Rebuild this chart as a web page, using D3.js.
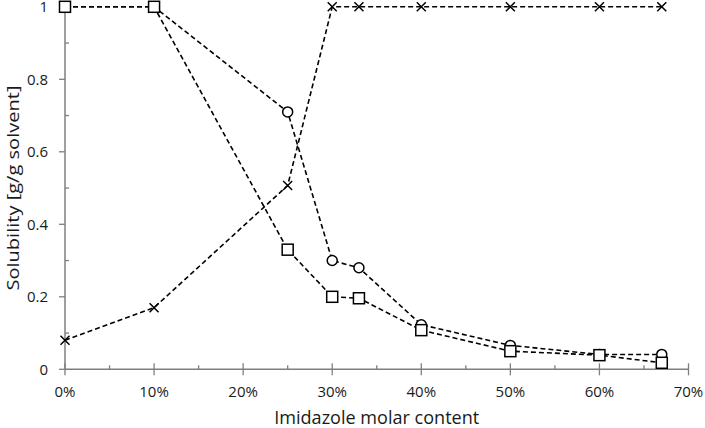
<!DOCTYPE html>
<html><head><meta charset="utf-8">
<script src="https://cdn.jsdelivr.net/npm/d3@7"></script>
<style>body{margin:0;background:#fff}svg{display:block}text{font-family:"Open Sans",Lato,sans-serif;fill:#1a1a1a}</style>
</head><body>
<script>
const xValues = [0, 0.10, 0.25, 0.30, 0.33, 0.40, 0.50, 0.60, 0.67];
const circleSeries = [1, 1, 0.71, 0.30, 0.28, 0.123, 0.066, 0.041, 0.041];
const squareSeries = [1, 1, 0.33, 0.20, 0.196, 0.108, 0.05, 0.039, 0.018];
const crossSeries = [0.08, 0.17, 0.507, 1, 1, 1, 1, 1, 1];
const xTicks = [0, 0.1, 0.2, 0.3, 0.4, 0.5, 0.6, 0.7];
const yTicks = [0, 0.2, 0.4, 0.6, 0.8, 1];
const xTitle = "Imidazole molar content";
const yTitle = "Solubility [g/g solvent]";

const W = 705, H = 428;
const svg = d3.select("body").append("svg").attr("width", W).attr("height", H);
const x = d3.scaleLinear().domain([0, 0.7]).range([65, 688.5]);
const y = d3.scaleLinear().domain([0, 1]).range([369.3, 6.8]);
const axisColor = "#7f7f7f";

// x axis
const xg = svg.append("g").attr("transform", `translate(0,${y(0)})`);
xg.append("line").attr("x1", x(0)).attr("x2", x(0.7)).attr("stroke", axisColor).attr("stroke-width", 1.5);
xg.selectAll(".maj").data(xTicks).join("line").attr("x1", d => x(d)).attr("x2", d => x(d)).attr("y1", -6).attr("y2", 6).attr("stroke", axisColor).attr("stroke-width", 1.3);
xg.selectAll(".min").data(d3.range(0.05, 0.7, 0.1)).join("line").attr("x1", d => x(d)).attr("x2", d => x(d)).attr("y1", -4).attr("y2", 0).attr("stroke", axisColor).attr("stroke-width", 1.3);
xg.selectAll("text").data(xTicks).join("text").attr("x", d => x(d)).attr("y", 28).attr("text-anchor", "middle").attr("font-size", 15).text(d => d3.format(".0%")(d));

// y axis
const yg = svg.append("g");
yg.append("line").attr("x1", x(0)).attr("x2", x(0)).attr("y1", y(0)).attr("y2", y(1)).attr("stroke", axisColor).attr("stroke-width", 1.5);
yg.selectAll(".maj").data(yTicks).join("line").attr("x1", x(0) - 6).attr("x2", x(0)).attr("y1", d => y(d)).attr("y2", d => y(d)).attr("stroke", axisColor).attr("stroke-width", 1.3);
yg.selectAll(".min").data(d3.range(0.1, 1, 0.2)).join("line").attr("x1", x(0)).attr("x2", x(0) + 4).attr("y1", d => y(d)).attr("y2", d => y(d)).attr("stroke", axisColor).attr("stroke-width", 1.3);
yg.selectAll("text").data(yTicks).join("text").attr("x", 48).attr("y", d => y(d) + 5.3).attr("text-anchor", "end").attr("font-size", 15).text(d => d === 0 || d === 1 ? d : d.toFixed(1));

svg.append("text").attr("x", x(0.35)).attr("y", 424).attr("text-anchor", "middle").attr("font-size", 18)
  .attr("textLength", 205).attr("lengthAdjust", "spacingAndGlyphs").text(xTitle);
svg.append("text").attr("transform", `translate(19,${y(0.5)}) rotate(-90)`).attr("text-anchor", "middle").attr("font-size", 17)
  .attr("textLength", 205).attr("lengthAdjust", "spacingAndGlyphs").text(yTitle);

const line = d3.line().x((d, i) => x(xValues[i])).y(d => y(d));
function drawSeries(vals, marker) {
  svg.append("path").attr("d", line(vals)).attr("fill", "none").attr("stroke", "#000").attr("stroke-width", 1.6).attr("stroke-dasharray", "5,3");
  const g = svg.append("g");
  vals.forEach((v, i) => {
    const cx = x(xValues[i]), cy = y(v);
    if (marker === "circle") {
      g.append("circle").attr("cx", cx).attr("cy", cy).attr("r", 5).attr("fill", "#fff").attr("stroke", "#000").attr("stroke-width", 1.5);
    } else if (marker === "square") {
      g.append("rect").attr("x", cx - 5.5).attr("y", cy - 5.5).attr("width", 11).attr("height", 11).attr("fill", "#fff").attr("stroke", "#000").attr("stroke-width", 1.5);
    } else {
      g.append("path").attr("d", `M${cx-4.5},${cy-4.5}L${cx+4.5},${cy+4.5}M${cx-4.5},${cy+4.5}L${cx+4.5},${cy-4.5}`).attr("stroke", "#000").attr("stroke-width", 1.5);
    }
  });
}
drawSeries(crossSeries, "cross");
drawSeries(circleSeries, "circle");
drawSeries(squareSeries, "square");
</script>
</body></html>
